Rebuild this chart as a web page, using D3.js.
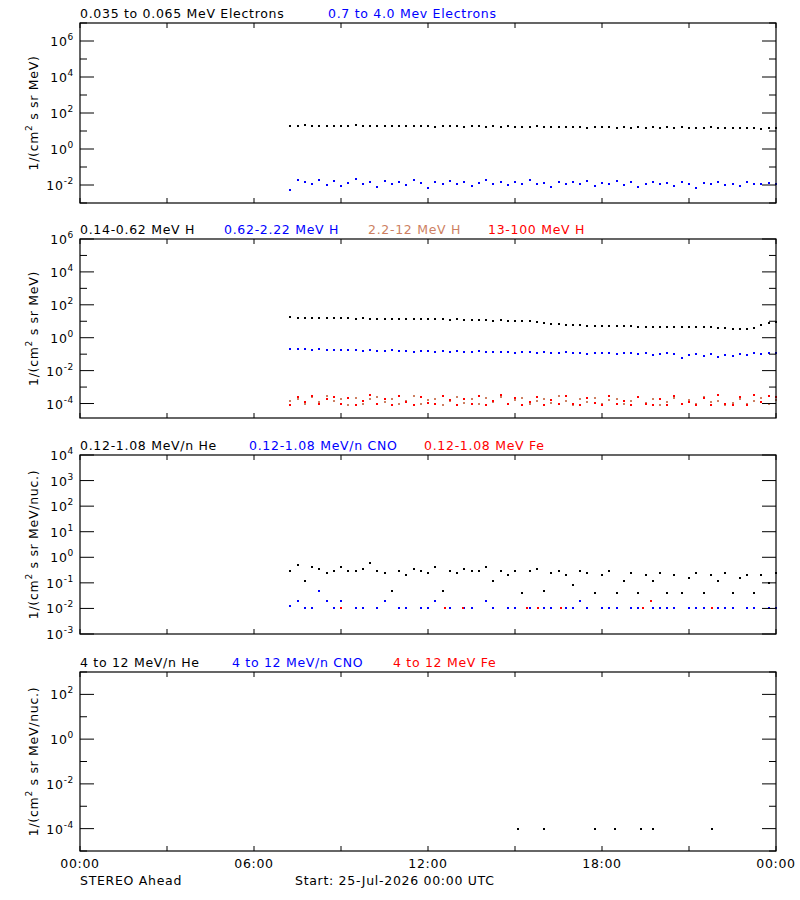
<html>
<head>
<script src="https://d3js.org/d3.v7.min.js"></script>
<style>
body { margin:0; background:#fff; }
text { font-family: "DejaVu Sans", sans-serif; font-size: 12.5px; letter-spacing: 0.7px; }
</style>
</head>
<body>
<svg width="800" height="900"></svg>
<script>
// time grid: 15-minute samples starting 07:15
var startHour = 7.25, stepHour = 0.25;

var e1Low = [20,19,21,18,20,19,20,18,19,21,20,19,18,20,19,18,19,20,18,19,17,18,19,18,17,18,19,17,18,17,18,17,16,17,18,17,16,17,16,17,16,15,16,17,16,15,16,15,16,15,16,15,16,15,16,15,14,15,16,15,14,15,14,15,14,13,15,14];
var e1High = [0.005,0.018,0.015,0.012,0.02,0.01,0.016,0.009,0.013,0.022,0.011,0.015,0.008,0.017,0.012,0.014,0.01,0.019,0.013,0.007,0.015,0.012,0.016,0.011,0.014,0.009,0.013,0.018,0.012,0.015,0.01,0.014,0.012,0.02,0.011,0.013,0.008,0.015,0.012,0.014,0.011,0.016,0.009,0.013,0.012,0.017,0.01,0.014,0.008,0.012,0.015,0.011,0.013,0.009,0.014,0.012,0.007,0.013,0.011,0.015,0.01,0.012,0.009,0.014,0.011,0.012,0.013,0.011];

var h1 = [17,16,16,16,15,16,15,15,15,14,15,14,14,14,13,14,13,13,13,14,13,13,12,13,12,12,12,12,11,12,11,11,10,10,9,8,7,6.5,6.2,6,5.8,5.5,5.5,5.2,5,5,5,4.9,4.8,4.8,4.7,4.6,4.7,4.5,4.5,4.4,4.3,4.2,4.2,4,3.8,3.6,3.4,3.5,3.8,6,8,9.5];
var h2 = [0.22,0.2,0.21,0.19,0.2,0.18,0.19,0.17,0.18,0.17,0.16,0.17,0.15,0.16,0.17,0.15,0.16,0.14,0.15,0.16,0.14,0.15,0.13,0.15,0.14,0.13,0.15,0.13,0.14,0.13,0.14,0.12,0.13,0.14,0.12,0.13,0.11,0.12,0.13,0.11,0.12,0.1,0.12,0.11,0.12,0.1,0.11,0.12,0.1,0.11,0.09,0.1,0.11,0.1,0.06,0.09,0.1,0.08,0.1,0.07,0.09,0.08,0.1,0.09,0.11,0.1,0.12,0.11];
var h3 = [1.5e-4,2e-4,1e-4,2.5e-4,1.2e-4,3e-4,1.5e-4,2e-4,8e-5,2.2e-4,1e-4,1.8e-4,2.5e-4,1.2e-4,2e-4,9e-5,1.5e-4,2.8e-4,1e-4,1.6e-4,2e-4,8e-5,1.4e-4,2.4e-4,1.1e-4,1.8e-4,9e-5,2.1e-4,1.3e-4,2.6e-4,1e-4,1.7e-4,2.2e-4,9e-5,1.5e-4,2e-4,1.1e-4,3e-4,1.4e-4,8e-5,1.9e-4,1.2e-4,2.3e-4,1e-4,1.6e-4,2e-4,9e-5,1.4e-4,2.5e-4,1.1e-4,1.8e-4,8e-5,1.3e-4,2.1e-4,1e-4,1.6e-4,9e-5,2.4e-4,1.2e-4,1.5e-4,8e-5,1.1e-4,1.9e-4,9e-5,1.4e-4,2.2e-4,1e-4,1.6e-4];
var h4 = [8e-5,2.5e-4,1.2e-4,3e-4,9e-5,1.8e-4,2.6e-4,1e-4,2.2e-4,8e-5,1.5e-4,3.2e-4,1e-4,2e-4,8e-5,2.8e-4,1.3e-4,8e-5,2.4e-4,1.1e-4,9e-5,3e-4,1.6e-4,8e-5,2e-4,1e-4,2.7e-4,8e-5,1.4e-4,3.1e-4,9e-5,2.2e-4,8e-5,1.2e-4,2.6e-4,8e-5,1.7e-4,9e-5,3e-4,1e-4,8e-5,2.3e-4,1.1e-4,8e-5,2.8e-4,9e-5,1.5e-4,8e-5,2.5e-4,1e-4,8e-5,1.9e-4,8e-5,2.9e-4,9e-5,1.3e-4,8e-5,2.1e-4,8e-5,3.2e-4,1e-4,8e-5,2.4e-4,8e-5,3.3e-4,1.2e-4,3e-4,2.6e-4];

var he1 = [0.3,0.5,0.12,0.4,0.35,0.25,0.3,0.4,0.3,0.28,0.35,0.6,0.3,0.25,0.05,0.3,0.2,0.35,0.3,0.25,0.4,0.05,0.3,0.25,0.35,0.3,0.28,0.4,0.12,0.3,0.2,0.28,0.04,0.3,0.35,0.05,0.25,0.3,0.2,0.08,0.3,0.25,0.04,0.2,0.3,0.04,0.12,0.25,0.04,0.2,0.12,0.25,0.04,0.2,0.04,0.15,0.25,0.04,0.2,0.12,0.25,0.04,0.15,0.2,0.04,0.2,0.1,0.25];
var cno1 = [0.012,0.02,0.01,0.01,0.05,0.02,0.01,0.02,null,0.01,0.01,null,0.01,0.02,null,0.01,0.01,null,0.01,0.01,0.02,null,0.01,null,0.01,0.01,null,0.02,0.01,null,0.01,0.01,null,0.01,null,0.01,0.01,null,0.01,0.01,0.02,0.01,null,0.01,0.01,0.01,null,0.01,0.01,null,0.01,0.01,0.01,0.01,null,0.01,0.01,0.01,null,0.01,0.01,0.01,null,0.01,0.01,null,0.01,0.01];
var fe1Hours = [9.0,12.6,13.2,15.4,15.8,16.6,19.4,19.7,21.8];
var fe1Vals = [0.01,0.01,0.01,0.01,0.01,0.01,0.01,0.02,0.01];

var he4Hours = [15.1,16.0,17.75,18.45,19.35,19.75,21.8];
var he4Vals = [1e-4,1e-4,1e-4,1e-4,1e-4,1e-4,1e-4];

var xTickHours = [0,3,6,9,12,15,18,21,24];
var xTickLabels = {0:"00:00",6:"06:00",12:"12:00",18:"18:00",24:"00:00"};

var BLUE = "#0000ff", RED = "#ff0000", BROWN = "#cd7f62";

var svg = d3.select("svg");
var x = d3.scaleLinear().domain([0,24]).range([80,776]);

function series(vals){
  return vals.map(function(v,i){ return {t:startHour+i*stepHour, v:v}; }).filter(function(d){ return d.v!=null; });
}
function pairs(hours, vals){
  return hours.map(function(h,i){ return {t:h, v:vals[i]}; });
}

var panels = [
  {top:23, bottom:203, dom:[1e-3,1e7], labelStep:2,
   ylab:"MeV)", 
   titles:[["0.035 to 0.065 MeV Electrons","#000",80],["0.7 to 4.0 Mev Electrons",BLUE,328]],
   data:[[series(e1Low),"#000"],[series(e1High),BLUE]]},
  {top:239, bottom:418, dom:[Math.pow(10,-4.88),1e6], labelStep:2,
   ylab:"MeV)",
   titles:[["0.14-0.62 MeV H","#000",80],["0.62-2.22 MeV H",BLUE,224],["2.2-12 MeV H",BROWN,368],["13-100 MeV H",RED,488]],
   data:[[series(h1),"#000"],[series(h2),BLUE],[series(h3),BROWN],[series(h4),RED]]},
  {top:455, bottom:634, dom:[1e-3,1e4], labelStep:1,
   ylab:"MeV/nuc.)",
   titles:[["0.12-1.08 MeV/n He","#000",80],["0.12-1.08 MeV/n CNO",BLUE,249],["0.12-1.08 MeV Fe",RED,424]],
   data:[[series(he1),"#000"],[series(cno1),BLUE],[pairs(fe1Hours,fe1Vals),RED]]},
  {top:672, bottom:851, dom:[1e-5,1e3], labelStep:2,
   ylab:"MeV/nuc.)",
   titles:[["4 to 12 MeV/n He","#000",80],["4 to 12 MeV/n CNO",BLUE,232],["4 to 12 MeV Fe",RED,393]],
   data:[[pairs(he4Hours,he4Vals),"#000"]]}
];

panels.forEach(function(p){
  var y = d3.scaleLog().domain(p.dom).range([p.bottom,p.top]);
  var g = svg.append("g");

  // data dots
  p.data.forEach(function(s){
    g.selectAll(null).data(s[0]).enter().append("rect")
      .attr("x", function(d){ return Math.round(x(d.t))-1; })
      .attr("y", function(d){ return Math.round(y(d.v))-1; })
      .attr("width",2).attr("height",2)
      .attr("fill", s[1]);
  });

  // frame
  g.append("rect").attr("x",80).attr("y",p.top).attr("width",696).attr("height",p.bottom-p.top)
    .attr("fill","none").attr("stroke","#000").attr("stroke-width",1.2);

  // x ticks inward, top and bottom
  xTickHours.forEach(function(h){
    g.append("line").attr("x1",x(h)).attr("x2",x(h)).attr("y1",p.bottom).attr("y2",p.bottom-5).attr("stroke","#000");
    g.append("line").attr("x1",x(h)).attr("x2",x(h)).attr("y1",p.top).attr("y2",p.top+5).attr("stroke","#000");
  });

  // y ticks, decades
  var lo = Math.ceil(Math.log10(p.dom[0])-1e-9), hi = Math.floor(Math.log10(p.dom[1])+1e-9);
  for (var e=lo; e<=hi; e++){
    var yy = y(Math.pow(10,e));
    var major = ((e % p.labelStep)+p.labelStep)%p.labelStep===0;
    var len = major ? 14 : 7;
    g.append("line").attr("x1",80).attr("x2",80+len).attr("y1",yy).attr("y2",yy).attr("stroke","#000");
    g.append("line").attr("x1",776).attr("x2",776-len).attr("y1",yy).attr("y2",yy).attr("stroke","#000");
    if (major){
      var t = g.append("text").attr("x",74).attr("y",yy+5).attr("text-anchor","end").attr("font-size","13px");
      t.append("tspan").text("10");
      t.append("tspan").attr("dy",-6).attr("font-size","9px").text(e);
    }
  }

  // y title
  var cy = (p.top+p.bottom)/2;
  var yt = g.append("text").attr("transform","translate(38,"+cy+") rotate(-90)")
    .attr("text-anchor","middle").attr("font-size","13px");
  yt.append("tspan").text("1/(cm");
  yt.append("tspan").attr("dy",-6).attr("font-size","9px").text("2");
  yt.append("tspan").attr("dy",6).text(" s sr "+p.ylab);

  // titles
  p.titles.forEach(function(tt){
    g.append("text").attr("x",tt[2]).attr("y",p.top-5).attr("fill",tt[1]).text(tt[0]);
  });
});

// bottom time labels
Object.keys(xTickLabels).forEach(function(h){
  svg.append("text").attr("x",x(+h)).attr("y",868).attr("text-anchor","middle").text(xTickLabels[h]);
});
svg.append("text").attr("x",80).attr("y",885).text("STEREO Ahead");
svg.append("text").attr("x",295).attr("y",885).text("Start: 25-Jul-2026 00:00 UTC");
</script>
</body>
</html>
